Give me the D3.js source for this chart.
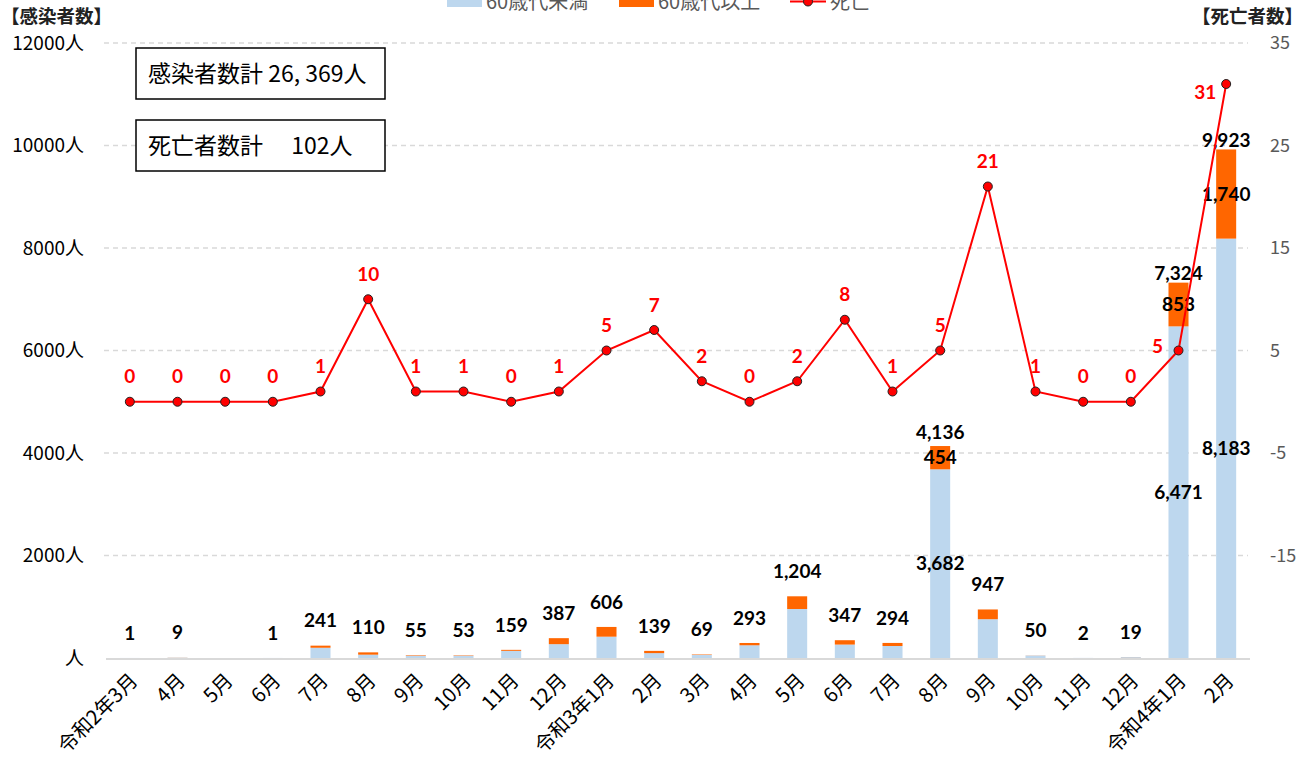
<!DOCTYPE html>
<html>
<head>
<meta charset="utf-8">
<script src="https://cdn.jsdelivr.net/npm/d3@7"></script>
<style>
  body { margin: 0; background: #fff; }
  svg { display: block; }
  text { font-family: "Noto Sans CJK JP", "Noto Sans", sans-serif; }
  .num { font-family: Lato, "Open Sans", sans-serif; font-weight: bold; font-size: 19px; }
</style>
</head>
<body>
<svg width="1313" height="761"></svg>
<script>
// 月ラベル
var months = ["令和2年3月","4月","5月","6月","7月","8月","9月","10月","11月","12月",
              "令和3年1月","2月","3月","4月","5月","6月","7月","8月","9月","10月","11月","12月",
              "令和4年1月","2月"];
// 60歳代未満
var under60 = [1,7,0,1,200,65,45,45,140,270,416,95,60,248,956,262,234,3682,757,48,2,17,6471,8183];
// 60歳代以上
var over60  = [0,2,0,0,41,45,10,8,19,117,190,44,9,45,248,85,60,454,190,2,0,2,853,1740];
// 死亡
var deaths  = [0,0,0,0,1,10,1,1,0,1,5,7,2,0,2,8,1,5,21,1,0,0,5,31];

var leftTicks  = [12000,10000,8000,6000,4000,2000,0];
var rightTicks = [35,25,15,5,-5,-15];
// 内訳ラベルを表示する月
var splitShown = [17,22,23];

var svg = d3.select("svg");
var fmt = d3.format(",");

var x = d3.scaleBand().domain(d3.range(months.length)).range([106,1250])
    .paddingInner(0.58).paddingOuter(0.29);
var y = d3.scaleLinear().domain([0,12000]).range([658,43]);
var y2 = d3.scaleLinear().domain([-25,35]).range([658,43]);
var cx = function(i){ return x(i) + x.bandwidth()/2; };

// grid
svg.append("g").selectAll("line")
    .data(leftTicks.filter(function(d){ return d > 0; }))
    .enter().append("line")
    .attr("x1",104).attr("x2",1248)
    .attr("y1",function(d){ return y(d); }).attr("y2",function(d){ return y(d); })
    .attr("stroke","#d9d9d9").attr("stroke-width",1.5).attr("stroke-dasharray","5,4");

// left axis labels
svg.append("g").selectAll("text")
    .data(leftTicks).enter().append("text")
    .attr("x",84).attr("y",function(d){ return y(d); }).attr("dy","0.35em")
    .attr("text-anchor","end").style("font-size","19px").attr("fill","#000")
    .text(function(d){ return d === 0 ? "人" : d + "人"; });

// right axis labels
svg.append("g").selectAll("text")
    .data(rightTicks).enter().append("text")
    .attr("x",1270).attr("y",function(d){ return y2(d); }).attr("dy","0.35em")
    .style("font-size","18px").attr("fill","#595959")
    .text(function(d){ return d; });

svg.append("text").attr("x",1).attr("y",17).attr("dy","0.35em")
    .style("font-size","18.5px").style("font-weight","bold").attr("fill","#222").text("【感染者数】");
svg.append("text").attr("x",1303).attr("y",17).attr("dy","0.35em").attr("text-anchor","end")
    .style("font-size","18.5px").style("font-weight","bold").attr("fill","#222").text("【死亡者数】");

// bars
var bars = svg.append("g");
bars.selectAll(".u").data(under60).enter().append("rect")
    .attr("x",function(d,i){ return x(i); }).attr("width",x.bandwidth())
    .attr("y",function(d){ return y(d); })
    .attr("height",function(d){ return y(0) - y(d); })
    .attr("fill","#bdd7ee");
bars.selectAll(".o").data(over60).enter().append("rect")
    .attr("x",function(d,i){ return x(i); }).attr("width",x.bandwidth())
    .attr("y",function(d,i){ return y(under60[i] + d); })
    .attr("height",function(d,i){ return y(under60[i]) - y(under60[i] + d); })
    .attr("fill","#ff6600");

// baseline
svg.append("line").attr("x1",106).attr("x2",1250).attr("y1",y(0)+1).attr("y2",y(0)+1)
    .attr("stroke","#d9d9d9").attr("stroke-width",2);

// totals and split labels
var totals = under60.map(function(d,i){ return d + over60[i]; });
var tg = svg.append("g");
totals.forEach(function(d,i){
  if (d <= 0) return;
  var split = splitShown.indexOf(i) >= 0;
  tg.append("text").attr("class","num")
    .attr("x",cx(i)).attr("y",y(d) - (split ? (i === 17 ? 14 : 9) : 25)).attr("dy","0.35em")
    .attr("text-anchor","middle").attr("fill","#000").text(fmt(d));
  if (split) {
    tg.append("text").attr("class","num")
      .attr("x",cx(i)).attr("y",y(under60[i]/2)).attr("dy","0.35em")
      .attr("text-anchor","middle").attr("fill","#000").text(fmt(under60[i]));
    tg.append("text").attr("class","num")
      .attr("x",cx(i)).attr("y",y(under60[i] + over60[i]/2)).attr("dy","0.35em")
      .attr("text-anchor","middle").attr("fill","#000").text(fmt(over60[i]));
  }
});

// death line
var line = d3.line().x(function(d,i){ return cx(i); }).y(function(d){ return y2(d); });
svg.append("path").datum(deaths).attr("d",line)
    .attr("fill","none").attr("stroke","#ff0000").attr("stroke-width",2);
svg.append("g").selectAll("circle").data(deaths).enter().append("circle")
    .attr("cx",function(d,i){ return cx(i); }).attr("cy",function(d){ return y2(d); })
    .attr("r",4.5).attr("fill","#ff0000").attr("stroke","#222").attr("stroke-width",1);
svg.append("g").selectAll("text").data(deaths).enter().append("text")
    .attr("class","num").attr("fill","#ff0000").attr("text-anchor","middle")
    .attr("x",function(d,i){ return i >= 22 ? cx(i) - 21 : cx(i); })
    .attr("y",function(d,i){ return i === 23 ? y2(d) + 8 : (i === 22 ? y2(d) - 4 : y2(d) - 25); })
    .attr("dy","0.35em")
    .text(function(d){ return d; });

// x labels
svg.append("g").selectAll("text").data(months).enter().append("text")
    .attr("transform",function(d,i){ return "translate(" + (cx(i) + 4) + ",677) rotate(-45)"; })
    .attr("text-anchor","end").attr("dy","0.35em")
    .style("font-size","20px").attr("fill","#000")
    .text(function(d){ return d; });

// summary boxes
var boxes = [{y:48, text:"感染者数計 26, 369人"}, {y:120, text:"死亡者数計　 102人"}];
boxes.forEach(function(b){
  svg.append("rect").attr("x",136).attr("y",b.y).attr("width",249).attr("height",51)
    .attr("fill","#fff").attr("stroke","#000").attr("stroke-width",1.5);
  svg.append("text").attr("x",148).attr("y",b.y + 26).attr("dy","0.35em")
    .style("font-size","23px").attr("fill","#000").text(b.text);
});

// legend (top, partly cut as in the source)
var lg = svg.append("g");
lg.append("rect").attr("x",447).attr("y",-12).attr("width",35).attr("height",19).attr("fill","#bdd7ee");
lg.append("text").attr("x",486).attr("y",2).attr("dy","0.35em").style("font-size","20px")
  .attr("fill","#595959").text("60歳代未満");
lg.append("rect").attr("x",619).attr("y",-12).attr("width",35).attr("height",19).attr("fill","#ff6600");
lg.append("text").attr("x",658).attr("y",2).attr("dy","0.35em").style("font-size","20px")
  .attr("fill","#595959").text("60歳代以上");
lg.append("line").attr("x1",790).attr("x2",826).attr("y1",1.5).attr("y2",1.5)
  .attr("stroke","#ff0000").attr("stroke-width",2);
lg.append("circle").attr("cx",808).attr("cy",1.5).attr("r",4.5)
  .attr("fill","#ff0000").attr("stroke","#222");
lg.append("text").attr("x",830).attr("y",2).attr("dy","0.35em").style("font-size","20px")
  .attr("fill","#595959").text("死亡");
</script>
</body>
</html>
